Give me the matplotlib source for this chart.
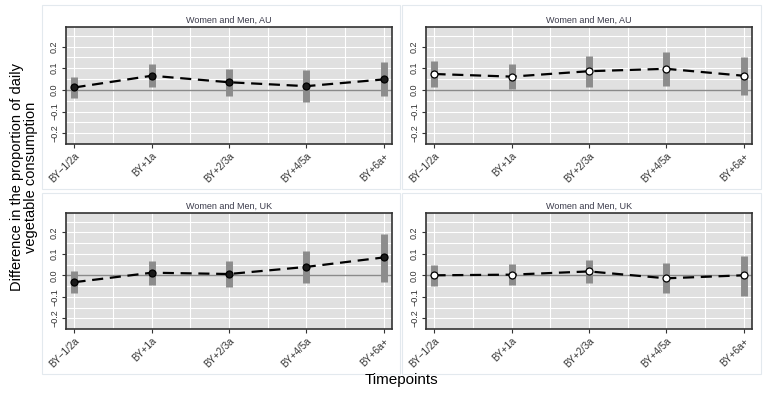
import numpy as np
import matplotlib
matplotlib.use('Agg')
import matplotlib.pyplot as plt
from matplotlib.patches import Rectangle

matplotlib.rcParams.update({'font.family': 'Liberation Sans'})

# timepoints shared by all panels
labels = ['BY\u22121/2a', 'BY+1a', 'BY+2/3a', 'BY+4/5a', 'BY+6a+']

# top left: AU (filled markers)
au1_est = [0.011, 0.065, 0.035, 0.017, 0.048]
au1_lo = [-0.039, 0.012, -0.030, -0.056, -0.030]
au1_hi = [0.061, 0.120, 0.098, 0.091, 0.127]

# top right: AU (open markers)
au2_est = [0.073, 0.061, 0.086, 0.097, 0.065]
au2_lo = [0.011, 0.002, 0.014, 0.017, -0.023]
au2_hi = [0.135, 0.117, 0.156, 0.173, 0.153]

# bottom left: UK (filled markers)
uk1_est = [-0.032, 0.012, 0.006, 0.039, 0.083]
uk1_lo = [-0.083, -0.044, -0.055, -0.038, -0.029]
uk1_hi = [0.021, 0.067, 0.068, 0.115, 0.194]

# bottom right: UK (open markers)
uk2_est = [0.000, 0.003, 0.018, -0.014, 0.000]
uk2_lo = [-0.048, -0.045, -0.038, -0.082, -0.095]
uk2_hi = [0.047, 0.052, 0.073, 0.055, 0.091]

W, H = 767, 397
fig = plt.figure(figsize=(W/100, H/100), dpi=100)


def px_axes(left, top, right, bottom):
    return fig.add_axes([left/W, (H-bottom)/H, (right-left)/W, (bottom-top)/H])


# light panel frames
for (x0, y0, x1, y1) in [(42, 5, 400, 189), (402, 5, 761, 189), (42, 193, 400, 374), (402, 193, 761, 374)]:
    fig.patches.append(Rectangle((x0/W, (H-y1)/H), (x1-x0)/W, (y1-y0)/H, transform=fig.transFigure,
                                 facecolor='none', edgecolor='#e3e9ee', lw=0.8, zorder=-1))


def panel(ax, est, lo, hi, title, fill):
    x = np.arange(len(est))
    ax.set_facecolor('#e0e0e0')
    ax.set_xlim(-0.11, 4.11)
    ax.set_ylim(-0.242, 0.29)
    ax.set_yticks([-0.2, -0.1, 0.0, 0.1, 0.2])
    ax.set_yticks(np.arange(-0.25, 0.3, 0.05), minor=True)
    ax.set_xticks(x)
    ax.set_xticks(np.arange(0.5, 4, 1), minor=True)
    ax.grid(True, which='both', color='white', lw=0.8)
    ax.set_axisbelow(True)
    ax.axhline(0, color='#8a8a8a', lw=1, zorder=1)
    ax.vlines(x, lo, hi, color='#8c8c8c', lw=5, zorder=2)
    ax.plot(x, est, color='black', ls=(0, (5, 3)), lw=1.6, zorder=3)
    ax.plot(x, est, 'o', ms=5, mfc='#1a1a1a' if fill else 'white', mec='black', mew=0.9, zorder=4)
    ax.set_xticklabels(labels, rotation=45, ha='right', rotation_mode='anchor', fontsize=7, color='#333333')
    ax.set_yticklabels(['\u22120.2', '\u22120.1', '0.0', '0.1', '0.2'], rotation=90, va='center', fontsize=6.5, color='#333333')
    ax.tick_params(which='minor', length=0)
    ax.tick_params(which='major', length=3, width=0.8, color='#333333', pad=2)
    for s in ax.spines.values():
        s.set_color('#333333')
        s.set_linewidth(1.2)
    ax.set_title(title, fontsize=6.5, color='#3a3a4a', pad=3)


panel(px_axes(66, 27, 392, 144), au1_est, au1_lo, au1_hi, 'Women and Men, AU', True)
panel(px_axes(426, 27, 752, 144), au2_est, au2_lo, au2_hi, 'Women and Men, AU', False)
panel(px_axes(66, 213, 392, 329), uk1_est, uk1_lo, uk1_hi, 'Women and Men, UK', True)
panel(px_axes(426, 213, 752, 329), uk2_est, uk2_lo, uk2_hi, 'Women and Men, UK', False)

fig.text(24/W, 1 - 177/H, 'Difference in the proportion of daily\nvegetable consumption',
         rotation=90, ha='center', va='center', fontsize=10.5, linespacing=1.0)
fig.text(401/W, 1 - 380/H, 'Timepoints', ha='center', va='center', fontsize=11)

fig.savefig('out.png', dpi=100)
